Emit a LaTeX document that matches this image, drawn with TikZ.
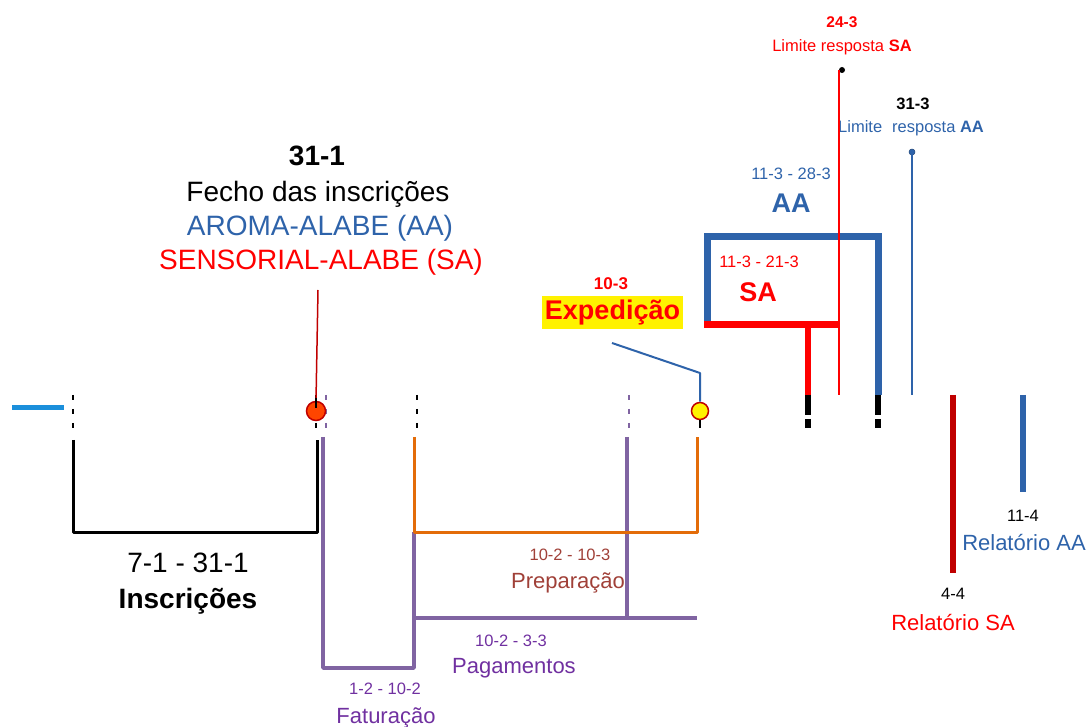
\documentclass[tikz,border=0pt]{standalone}
\usepackage{fontspec}
\setmainfont{Liberation Sans}
\definecolor{aablue}{RGB}{46,99,170}
\definecolor{sared}{RGB}{255,0,0}
\definecolor{darkred}{RGB}{192,0,0}
\definecolor{purp}{RGB}{128,100,162}
\definecolor{purptxt}{RGB}{112,48,160}
\definecolor{orng}{RGB}{227,108,9}
\definecolor{brn}{RGB}{160,64,56}
\definecolor{ltblue}{RGB}{27,143,219}
\definecolor{dotred}{RGB}{255,69,0}
\newcommand{\fs}[1]{\fontsize{#1}{#1}\selectfont}
\begin{document}
\begin{tikzpicture}[x=1pt,y=-1pt,
  lbl/.style={inner sep=0,anchor=base},
  ticky/.style={line width=2pt,dash pattern=on 5pt off 9pt},
  bigtick/.style={line width=6pt,dash pattern=on 20pt off 4pt},
  bracketk/.style={line width=3pt,line join=round},
  marker/.style={circle,draw=darkred,line width=1.5pt,inner sep=0,minimum width=17pt},
  enddot/.style={circle,inner sep=0,minimum size=6pt}]
\useasboundingbox (0,0) rectangle (1088,727);

% --- coordinates
\coordinate (lb1) at (12,408); \coordinate (lb2) at (64,408);
\foreach \n/\x/\c in {t1/73/black,t2/316/black,t3/326/purp,t4/417/black,t5/629/purp}{
  \coordinate (\n a) at (\x,395); \coordinate (\n b) at (\x,428);
  \draw[ticky,\c] (\n a) -- (\n b);
}
\draw[line width=5pt,ltblue] (lb1) -- (lb2);

% Inscricoes bracket
\coordinate (ia) at (73,440); \coordinate (ib) at (73,532);
\coordinate (ic) at (317,532); \coordinate (id) at (317,440);
\draw[bracketk] (ia) -- (ib) -- (ic) -- (id);
\node[lbl] (insd) at (188,572) {\fs{28}7-1 - 31-1};
\node[lbl] (insn) at (188,608) {\fs{28}\bfseries Inscrições};

% Faturacao bracket
\coordinate (fa) at (323,437); \coordinate (fb) at (323,668);
\coordinate (fc) at (414,668); \coordinate (fd) at (414,532);
\draw[bracketk,purp,line width=3.5pt] (fa) -- (fb) -- (fc) -- (fd);
% Pagamentos
\coordinate (pa) at (414,618); \coordinate (pb) at (697,618);
\coordinate (pc) at (627,437); \coordinate (pd) at (627,618);
\draw[purp,line width=3.5pt] (pa) -- (pb);
% Preparacao text (under purple line)
\node[lbl,text=brn] (prd) at (570,560) {\fs{16.5}10-2 - 10-3};
\node[lbl,text=brn] (prn) at (568,588) {\fs{22}Preparação};
\draw[purp,line width=3.5pt] (pc) -- (pd);
% Preparacao bracket
\coordinate (oa) at (414,437); \coordinate (ob) at (414,532);
\coordinate (oc) at (697,532); \coordinate (od) at (697,437);
\draw[bracketk,orng] (oa) -- (ob) -- (oc) -- (od);

\node[lbl,text=purptxt] (pgd) at (511,646) {\fs{16.5}10-2 - 3-3};
\node[lbl,text=purptxt] (pgn) at (514,673) {\fs{22}Pagamentos};
\node[lbl,text=purptxt] (ftd) at (385,694) {\fs{16.5}1-2 - 10-2};
\node[lbl,text=purptxt] (ftn) at (386,723) {\fs{22}Faturação};

% 31-1 label
\node[lbl] (h1) at (317,166) {\fs{28}\bfseries 31-1};
\node[lbl] (h2) at (318,202) {\fs{28}Fecho das inscrições};
\node[lbl,text=aablue] (h3) at (320,236) {\fs{28}AROMA-ALABE (AA)};
\node[lbl,text=sared] (h4) at (321,270) {\fs{28}SENSORIAL-ALABE (SA)};
\coordinate (rl) at (318,290);
\node[marker,fill=dotred,minimum height=19pt] (m1) at (316,411) {};
\draw[darkred,line width=1.5pt] (rl) -- (m1.north);
\draw[black,line width=2pt] (316,398) -- (316,408);

% Expedicao
\node[lbl,text=sared] (e1) at (611,290) {\fs{17}\bfseries 10-3};
\node[fill=yellow,inner sep=0,minimum width=141pt,minimum height=33pt,text=sared] (e2) at (612.5,312.5) {\fs{27}\bfseries Expedição};
\coordinate (ea) at (612,343); \coordinate (eb) at (700,373);
\node[marker,fill=yellow] (m2) at (700,411) {};
\draw[aablue,line width=2pt,line join=round] (ea) -- (eb) -- (m2.north);
\draw[black,line width=2pt] (m2.south) -- (700,428);

% AA frame
\coordinate (aa1) at (707,325); \coordinate (aa2) at (707,237);
\coordinate (aa3) at (878,237); \coordinate (aa4) at (878,395);
\draw[aablue,line width=7pt,line join=miter] (aa1) -- (aa2) -- (aa3) -- (aa4);
% SA
\coordinate (sa1) at (704,325); \coordinate (sa2) at (839,325);
\coordinate (sa3) at (808,325); \coordinate (sa4) at (808,395);
\draw[sared,line width=7pt] (sa1) -- (sa2);
\draw[sared,line width=6pt] (sa3) -- (sa4);
\coordinate (bt1a) at (808,395); \coordinate (bt1b) at (808,428);
\coordinate (bt2a) at (878,395); \coordinate (bt2b) at (878,428);
\draw[bigtick] (bt1a) -- (bt1b);
\draw[bigtick] (bt2a) -- (bt2b);

\node[lbl,text=aablue] (aad) at (791,180) {\fs{16.5}11-3 - 28-3};
\node[lbl,text=aablue] (aan) at (791,213) {\fs{27}\bfseries AA};
\node[lbl,text=sared] (sad) at (759,268) {\fs{16.5}11-3 - 21-3};
\node[lbl,text=sared] (san) at (758,302) {\fs{27}\bfseries SA};

% limits
\node[lbl,text=sared] (l1) at (842,28) {\fs{15.5}\bfseries 24-3};
\node[lbl,text=sared] (l2) at (842,52) {\fs{16.5}Limite resposta \textbf{SA}};
\node[lbl] (l3) at (913,110) {\fs{16.5}\bfseries 31-3};
\node[lbl,text=aablue,anchor=base west] (l4) at (838,133) {\fs{16.5}Limite};
\node[lbl,text=aablue,anchor=base west] (l5) at (892,133) {\fs{16.5}resposta \textbf{AA}};
\node[enddot,fill=black] (d1) at (842,70) {};
\coordinate (r1b) at (839,395);
\draw[sared,line width=2pt] (839,70) -- (r1b);
\node[enddot,fill=aablue,draw=aablue!70!black,line width=0.5pt] (d2) at (912,152) {};
\coordinate (b1b) at (912,395);
\draw[aablue,line width=2pt] (d2.center) -- (b1b);

% reports
\coordinate (rsa1) at (953,395); \coordinate (rsa2) at (953,573);
\draw[darkred,line width=6pt] (rsa1) -- (rsa2);
\coordinate (raa1) at (1023,395); \coordinate (raa2) at (1023,492);
\draw[aablue,line width=6pt] (raa1) -- (raa2);
\node[lbl] (r1) at (1023,521) {\fs{16.5}11-4};
\node[lbl,text=aablue] (r2) at (1024,550) {\fs{22}Relatório AA};
\node[lbl] (r3) at (953,599) {\fs{16.5}4-4};
\node[lbl,text=sared] (r4) at (953,630) {\fs{22}Relatório SA};
\end{tikzpicture}
\end{document}
